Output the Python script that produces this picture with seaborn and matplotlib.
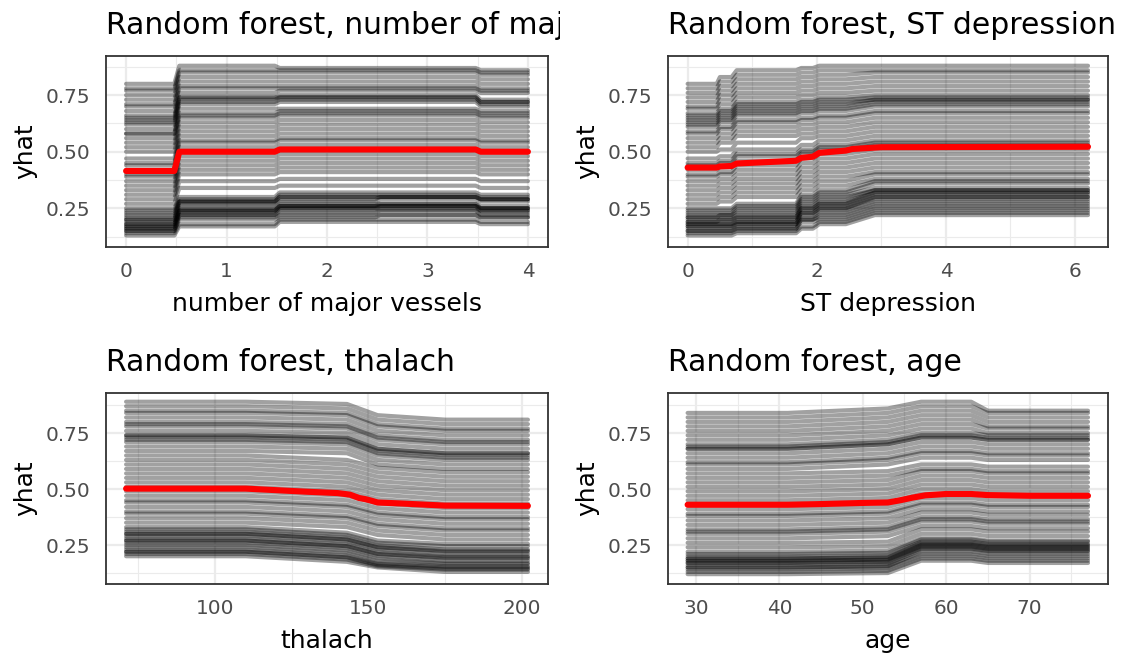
import numpy as np
import pandas as pd
import matplotlib
matplotlib.use("Agg")
import matplotlib.pyplot as plt
import seaborn as sns
from matplotlib.transforms import Bbox, TransformedBbox
from matplotlib.ticker import FixedLocator, NullFormatter

# ---------------- data ----------------
# Panel 1: number of major vessels; ICE levels on each flat segment
ca_knots = [0, 0.48, 0.53, 1.48, 1.53, 2.48, 2.53, 3.48, 3.53, 4.0]
ca_seg = [0, 0, 1, 1, 2, 2, 3, 3, 4, 4]
ca_l0 = [0.13, 0.14, 0.15, 0.15, 0.16, 0.16, 0.17, 0.17, 0.18, 0.18, 0.19, 0.20, 0.20, 0.21, 0.22, 0.23, 0.24, 0.25,
         0.27, 0.29, 0.31, 0.33, 0.35, 0.37, 0.39, 0.40, 0.42, 0.44, 0.45, 0.47, 0.50, 0.52,
         0.54, 0.56, 0.58, 0.58, 0.60, 0.62, 0.63, 0.64, 0.65, 0.66, 0.68, 0.70, 0.71, 0.73, 0.75, 0.77, 0.78, 0.80]
ca_l1 = [0.17, 0.18, 0.20, 0.21, 0.22, 0.22, 0.23, 0.24, 0.24, 0.24, 0.25, 0.26, 0.27, 0.28, 0.28, 0.28, 0.29, 0.30,
         0.34, 0.37, 0.40, 0.42, 0.44, 0.46, 0.48, 0.50, 0.52, 0.54, 0.55, 0.57, 0.59, 0.61,
         0.63, 0.65, 0.66, 0.67, 0.69, 0.71, 0.72, 0.73, 0.74, 0.74, 0.76, 0.78, 0.79, 0.81, 0.83, 0.85, 0.86, 0.88]
ca_l2 = [0.19, 0.20, 0.21, 0.22, 0.23, 0.24, 0.25, 0.25, 0.26, 0.26, 0.26, 0.27, 0.28, 0.29, 0.30, 0.30, 0.31, 0.32,
         0.35, 0.38, 0.41, 0.43, 0.45, 0.47, 0.49, 0.51, 0.53, 0.55, 0.56, 0.58, 0.60, 0.62,
         0.64, 0.66, 0.67, 0.68, 0.69, 0.72, 0.73, 0.74, 0.74, 0.75, 0.77, 0.78, 0.79, 0.81, 0.83, 0.85, 0.86, 0.87]
ca_l3 = [0.19, 0.20, 0.22, 0.22, 0.24, 0.24, 0.25, 0.26, 0.26, 0.26, 0.27, 0.27, 0.29, 0.30, 0.30, 0.30, 0.31, 0.32,
         0.35, 0.38, 0.41, 0.43, 0.45, 0.47, 0.49, 0.51, 0.53, 0.55, 0.56, 0.58, 0.60, 0.62,
         0.64, 0.66, 0.67, 0.68, 0.69, 0.72, 0.73, 0.74, 0.74, 0.75, 0.77, 0.78, 0.79, 0.81, 0.83, 0.85, 0.86, 0.87]
ca_l4 = [0.18, 0.19, 0.21, 0.21, 0.22, 0.23, 0.24, 0.24, 0.25, 0.25, 0.25, 0.26, 0.28, 0.29, 0.29, 0.29, 0.30, 0.31,
         0.34, 0.37, 0.40, 0.42, 0.44, 0.46, 0.48, 0.50, 0.52, 0.54, 0.55, 0.57, 0.59, 0.61,
         0.63, 0.65, 0.66, 0.67, 0.68, 0.70, 0.71, 0.72, 0.72, 0.73, 0.76, 0.77, 0.78, 0.80, 0.82, 0.84, 0.85, 0.86]
ca_pdp_x = [0, 0.48, 0.53, 1.48, 1.53, 3.48, 3.53, 4.0]
ca_pdp_y = [0.415, 0.415, 0.50, 0.50, 0.51, 0.51, 0.50, 0.50]

# Panel 2: ST depression
op_knots = [0, 0.45, 0.5, 0.68, 0.76, 1.68, 1.76, 1.94, 2.04, 2.45, 2.9, 6.2]
op_seg = [0, 0, 1, 1, 2, 2, 3, 3, 4, 4, 5, 5]
op_l0 = [0.13, 0.14, 0.15, 0.15, 0.16, 0.17, 0.17, 0.18, 0.18, 0.19, 0.19, 0.20, 0.21, 0.21, 0.22, 0.23, 0.24, 0.25,
         0.27, 0.29, 0.31, 0.33, 0.35, 0.37, 0.39, 0.40, 0.42, 0.44, 0.45, 0.47, 0.50, 0.52,
         0.54, 0.56, 0.58, 0.59, 0.61, 0.62, 0.63, 0.64, 0.65, 0.66, 0.67, 0.69, 0.70, 0.72, 0.74, 0.76, 0.78, 0.80]
op_l1 = [0.13, 0.14, 0.15, 0.15, 0.16, 0.17, 0.17, 0.18, 0.18, 0.19, 0.20, 0.20, 0.21, 0.22, 0.22, 0.23, 0.24, 0.25,
         0.28, 0.30, 0.32, 0.34, 0.36, 0.38, 0.40, 0.41, 0.43, 0.45, 0.46, 0.48, 0.51, 0.54,
         0.56, 0.58, 0.60, 0.61, 0.63, 0.64, 0.65, 0.66, 0.67, 0.68, 0.69, 0.71, 0.73, 0.75, 0.77, 0.79, 0.81, 0.83]
op_l2 = [0.14, 0.15, 0.16, 0.16, 0.17, 0.18, 0.18, 0.19, 0.19, 0.20, 0.21, 0.21, 0.22, 0.23, 0.24, 0.25, 0.26, 0.27,
         0.30, 0.32, 0.34, 0.36, 0.38, 0.40, 0.42, 0.44, 0.46, 0.48, 0.49, 0.51, 0.54, 0.57,
         0.59, 0.61, 0.63, 0.64, 0.66, 0.67, 0.68, 0.69, 0.70, 0.71, 0.72, 0.74, 0.76, 0.78, 0.80, 0.82, 0.84, 0.86]
op_l3 = [0.16, 0.17, 0.19, 0.20, 0.20, 0.21, 0.22, 0.23, 0.23, 0.24, 0.25, 0.25, 0.26, 0.27, 0.28, 0.29, 0.30, 0.31,
         0.33, 0.35, 0.37, 0.39, 0.41, 0.43, 0.45, 0.47, 0.49, 0.50, 0.51, 0.53, 0.56, 0.58,
         0.60, 0.62, 0.64, 0.65, 0.67, 0.68, 0.69, 0.70, 0.71, 0.72, 0.73, 0.75, 0.77, 0.79, 0.81, 0.83, 0.85, 0.87]
op_l4 = [0.18, 0.19, 0.20, 0.21, 0.22, 0.23, 0.24, 0.25, 0.25, 0.26, 0.27, 0.27, 0.28, 0.29, 0.30, 0.31, 0.32, 0.33,
         0.35, 0.37, 0.39, 0.41, 0.43, 0.45, 0.47, 0.49, 0.51, 0.52, 0.53, 0.55, 0.57, 0.59,
         0.61, 0.63, 0.65, 0.66, 0.68, 0.69, 0.70, 0.71, 0.72, 0.73, 0.74, 0.76, 0.78, 0.80, 0.82, 0.84, 0.86, 0.88]
op_l5 = [0.22, 0.23, 0.24, 0.25, 0.26, 0.27, 0.28, 0.29, 0.30, 0.30, 0.31, 0.32, 0.32, 0.33, 0.33, 0.34, 0.36, 0.37,
         0.38, 0.40, 0.41, 0.43, 0.45, 0.47, 0.49, 0.51, 0.53, 0.54, 0.55, 0.57, 0.59, 0.61,
         0.63, 0.65, 0.67, 0.68, 0.70, 0.71, 0.72, 0.73, 0.73, 0.74, 0.75, 0.77, 0.79, 0.81, 0.83, 0.85, 0.86, 0.88]
op_pdp_x = [0, 0.45, 0.5, 0.68, 0.76, 1.68, 1.76, 1.94, 2.04, 2.45, 2.55, 3.0, 6.2]
op_pdp_y = [0.43, 0.43, 0.435, 0.437, 0.448, 0.46, 0.473, 0.478, 0.495, 0.505, 0.512, 0.52, 0.522]

# Panel 3: thalach
th_knots = [71, 110, 143, 153, 175, 202]
th_seg = [0, 0, 1, 2, 3, 3]
th_l0 = [0.20, 0.21, 0.22, 0.22, 0.23, 0.24, 0.25, 0.26, 0.27, 0.27, 0.28, 0.29, 0.30, 0.30, 0.31, 0.32, 0.33,
         0.35, 0.37, 0.39, 0.40, 0.42, 0.44, 0.45, 0.47, 0.49, 0.51, 0.53, 0.55, 0.57, 0.59, 0.61, 0.63, 0.65,
         0.67, 0.69, 0.71, 0.72, 0.73, 0.74, 0.74, 0.76, 0.78, 0.79, 0.80, 0.82, 0.84, 0.85, 0.87, 0.89]
th_l1 = [0.175, 0.185, 0.195, 0.195, 0.205, 0.215, 0.225, 0.235, 0.245, 0.245, 0.255, 0.265, 0.275, 0.275, 0.285, 0.295, 0.305,
         0.33, 0.35, 0.37, 0.38, 0.40, 0.42, 0.43, 0.45, 0.47, 0.49, 0.51, 0.53, 0.55, 0.57, 0.59, 0.61, 0.63,
         0.66, 0.68, 0.70, 0.71, 0.72, 0.73, 0.73, 0.75, 0.77, 0.78, 0.79, 0.81, 0.83, 0.84, 0.86, 0.88]
th_l2 = [0.15, 0.155, 0.16, 0.165, 0.17, 0.18, 0.19, 0.20, 0.21, 0.21, 0.22, 0.23, 0.24, 0.24, 0.25, 0.26, 0.27,
         0.295, 0.315, 0.335, 0.345, 0.365, 0.385, 0.395, 0.415, 0.435, 0.455, 0.475, 0.495, 0.515, 0.535, 0.555, 0.575, 0.595,
         0.61, 0.63, 0.65, 0.66, 0.67, 0.68, 0.68, 0.70, 0.72, 0.73, 0.74, 0.76, 0.78, 0.79, 0.81, 0.83]
th_l3 = [0.13, 0.14, 0.145, 0.15, 0.155, 0.165, 0.17, 0.18, 0.19, 0.195, 0.20, 0.21, 0.22, 0.225, 0.23, 0.245, 0.255,
         0.275, 0.295, 0.315, 0.325, 0.345, 0.365, 0.375, 0.395, 0.415, 0.435, 0.455, 0.475, 0.495, 0.515, 0.535, 0.555, 0.575,
         0.59, 0.61, 0.63, 0.64, 0.65, 0.66, 0.66, 0.68, 0.70, 0.71, 0.72, 0.74, 0.76, 0.77, 0.79, 0.81]
th_pdp_x = [71, 110, 120, 130, 140, 144, 147, 149, 151, 153, 160, 175, 202]
th_pdp_y = [0.502, 0.502, 0.495, 0.488, 0.482, 0.475, 0.46, 0.455, 0.448, 0.44, 0.436, 0.426, 0.425]

# Panel 4: age
ag_knots = [29, 41, 53, 57, 63, 65, 77]
ag_seg = [0, 0, 1, 2, 2, 3, 3]
ag_l0 = [0.12, 0.13, 0.14, 0.15, 0.15, 0.16, 0.17, 0.17, 0.18, 0.18, 0.19, 0.19, 0.20, 0.21, 0.22, 0.24, 0.26,
         0.28, 0.30, 0.31, 0.32, 0.34, 0.36, 0.38, 0.39, 0.41, 0.43, 0.45, 0.47, 0.49, 0.51, 0.53, 0.55, 0.57,
         0.59, 0.61, 0.62, 0.64, 0.66, 0.68, 0.68, 0.69, 0.70, 0.72, 0.74, 0.76, 0.78, 0.80, 0.82, 0.84]
ag_l1 = [0.125, 0.135, 0.145, 0.155, 0.155, 0.165, 0.175, 0.175, 0.185, 0.185, 0.195, 0.195, 0.205, 0.215, 0.225, 0.245, 0.265,
         0.29, 0.31, 0.32, 0.33, 0.35, 0.37, 0.39, 0.40, 0.42, 0.44, 0.46, 0.48, 0.50, 0.52, 0.54, 0.56, 0.58,
         0.61, 0.63, 0.64, 0.66, 0.68, 0.70, 0.70, 0.71, 0.72, 0.74, 0.76, 0.78, 0.80, 0.82, 0.84, 0.86]
ag_l2 = [0.18, 0.19, 0.20, 0.21, 0.22, 0.23, 0.235, 0.24, 0.245, 0.25, 0.255, 0.26, 0.265, 0.275, 0.28, 0.30, 0.32,
         0.335, 0.355, 0.365, 0.375, 0.395, 0.41, 0.43, 0.44, 0.46, 0.48, 0.50, 0.52, 0.54, 0.56, 0.58, 0.59, 0.61,
         0.64, 0.66, 0.67, 0.69, 0.71, 0.73, 0.73, 0.74, 0.75, 0.77, 0.79, 0.81, 0.83, 0.85, 0.87, 0.89]
ag_l3 = [0.17, 0.18, 0.19, 0.20, 0.21, 0.22, 0.225, 0.23, 0.235, 0.24, 0.245, 0.25, 0.255, 0.265, 0.27, 0.29, 0.31,
         0.325, 0.345, 0.355, 0.365, 0.385, 0.40, 0.42, 0.43, 0.45, 0.47, 0.49, 0.51, 0.53, 0.55, 0.57, 0.58, 0.60,
         0.63, 0.65, 0.66, 0.68, 0.70, 0.72, 0.72, 0.73, 0.74, 0.75, 0.77, 0.78, 0.80, 0.82, 0.84, 0.85]
ag_pdp_x = [29, 41, 45, 50, 53, 54.5, 56, 57.5, 60, 63, 65, 70, 77]
ag_pdp_y = [0.43, 0.43, 0.433, 0.438, 0.44, 0.45, 0.462, 0.472, 0.478, 0.478, 0.473, 0.47, 0.47]

titles = ["Random forest, number of major vessels", "Random forest, ST depression",
          "Random forest, thalach", "Random forest, age"]
xlabels = ["number of major vessels", "ST depression", "thalach", "age"]
ylabel = "yhat"
y_ticks = [0.25, 0.50, 0.75]
y_ticklabels = ["0.25", "0.50", "0.75"]
y_minor = [0.125, 0.375, 0.625, 0.875]
x_ticks = [[0, 1, 2, 3, 4], [0, 2, 4, 6], [100, 150, 200], [30, 40, 50, 60, 70]]
x_ticklabels = [["0", "1", "2", "3", "4"], ["0", "2", "4", "6"], ["100", "150", "200"],
                ["30", "40", "50", "60", "70"]]
x_minor = [[0.5, 1.5, 2.5, 3.5], [1, 3, 5], [75, 125, 175], [35, 45, 55, 65, 75]]
x_lims = [(-0.2, 4.2), (-0.31, 6.51), (64.45, 208.55), (26.6, 79.4)]
y_lims = [(0.079, 0.923), (0.079, 0.923), (0.076, 0.929), (0.076, 0.929)]


def ice_frame(knots, seg, levels):
    rows = []
    for i in range(len(levels[0])):
        for xk, s in zip(knots, seg):
            rows.append((i, xk, levels[s][i]))
    return pd.DataFrame(rows, columns=["id", "x", "yhat"])


frames = [
    ice_frame(ca_knots, ca_seg, [ca_l0, ca_l1, ca_l2, ca_l3, ca_l4]),
    ice_frame(op_knots, op_seg, [op_l0, op_l1, op_l2, op_l3, op_l4, op_l5]),
    ice_frame(th_knots, th_seg, [th_l0, th_l1, th_l2, th_l3]),
    ice_frame(ag_knots, ag_seg, [ag_l0, ag_l1, ag_l2, ag_l3]),
]
pdps = [(ca_pdp_x, ca_pdp_y), (op_pdp_x, op_pdp_y), (th_pdp_x, th_pdp_y), (ag_pdp_x, ag_pdp_y)]

# ---------------- styling ----------------
sns.set_style("white")
plt.rcParams["font.family"] = ["DejaVu Sans"]

W, H = 1128, 655
fig = plt.figure(figsize=(W / 100, H / 100), dpi=100)
rects = [
    [106 / W, 1 - 247 / H, 442 / W, 191 / H],
    [667.6 / W, 1 - 247 / H, 440.4 / W, 191 / H],
    [106 / W, 1 - 584 / H, 442 / W, 191 / H],
    [667.6 / W, 1 - 584 / H, 440.4 / W, 191 / H],
]

for k in range(4):
    ax = fig.add_axes(rects[k])
    ax.set_facecolor("white")
    ax.set_axisbelow(True)
    sns.lineplot(data=frames[k], x="x", y="yhat", units="id", estimator=None,
                 color="black", alpha=0.37, linewidth=3.0, ax=ax, sort=False, legend=False)
    sns.lineplot(x=pdps[k][0], y=pdps[k][1], color="#FF0000", linewidth=4.4, ax=ax,
                 sort=False, legend=False, errorbar=None)
    ax.set_xlim(*x_lims[k])
    ax.set_ylim(*y_lims[k])
    ax.xaxis.set_major_locator(FixedLocator(x_ticks[k]))
    ax.set_xticklabels(x_ticklabels[k])
    ax.xaxis.set_minor_locator(FixedLocator(x_minor[k]))
    ax.yaxis.set_major_locator(FixedLocator(y_ticks))
    ax.set_yticklabels(y_ticklabels)
    ax.yaxis.set_minor_locator(FixedLocator(y_minor))
    ax.xaxis.set_minor_formatter(NullFormatter())
    ax.yaxis.set_minor_formatter(NullFormatter())
    ax.grid(which="major", color="#EBEBEB", linewidth=1.6)
    ax.grid(which="minor", color="#EBEBEB", linewidth=0.8)
    ax.tick_params(which="major", length=5.5, width=1.2, color="#333333",
                   labelsize=14.4, labelcolor="#4D4D4D", pad=5.5)
    ax.tick_params(which="minor", length=0)
    for sp in ax.spines.values():
        sp.set_color("#333333")
        sp.set_linewidth(1.3)
        sp.set_visible(True)
    ax.set_xlabel(xlabels[k], fontsize=18, color="black", labelpad=8)
    ax.set_ylabel(ylabel, fontsize=18, color="black", labelpad=6)
    t = ax.set_title(titles[k], loc="left", fontsize=21.5, color="black", pad=16)
    if k % 2 == 0:
        t.set_clip_box(TransformedBbox(Bbox([[0, 0], [560 / W, 1]]), fig.transFigure))
    else:
        t.set_clip_box(TransformedBbox(Bbox([[0, 0], [1, 1]]), fig.transFigure))
    t.set_clip_on(True)

fig.savefig("out.png", dpi=100, facecolor="white")
